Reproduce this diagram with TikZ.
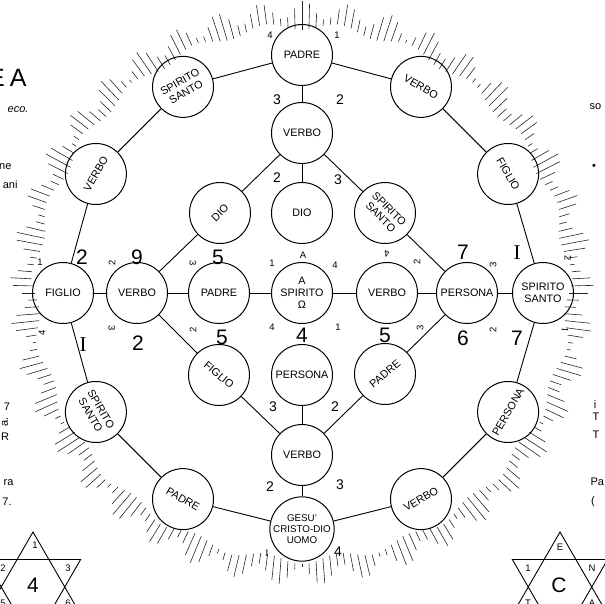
\documentclass[tikz,border=0pt]{standalone}
\usepackage{fontspec}
\setmainfont{Liberation Sans}
\newfontfamily\romanI{Liberation Serif}

\tikzset{
  ring/.style={circle, draw, line width=1pt, minimum size=61pt, inner sep=0pt,
    align=center, font=\fontsize{10.8}{12}\selectfont},
  link/.style={line width=0.9pt},
  hatch/.style={line width=0.6pt, black!85},
  numsmall/.style={font=\fontsize{9.5}{9.5}\selectfont},
  nummid/.style={font=\fontsize{14}{14}\selectfont},
  numbig/.style={font=\fontsize{21}{21}\selectfont},
  margintext/.style={font=\fontsize{11}{11}\selectfont},
}

\begin{document}
\begin{tikzpicture}[x=1pt, y=1pt]
  \useasboundingbox (-302,-311) rectangle (303,293);
  % hatched border round the whole figure
  \foreach \a in {0,1.5,...,358.5}
    \draw[hatch] (\a:{267+4*sin(23*\a)}) -- (\a:{283+9*sin(41*\a+17)});
  % outer ring of twelve
  \node[ring] (padreN) at (90:238) {PADRE};
  \node[ring, rotate=-30] (verboNE) at (60:238) {VERBO};
  \node[ring, rotate=-60] (figlioNE) at (30:238) {FIGLIO};
  \node[ring] (spiritoE) at (0:241) {SPIRITO\\SANTO};
  \node[ring, rotate=60] (personaSE) at (-30:238) {PERSONA};
  \node[ring, rotate=30] (verboSE) at (-60:238) {VERBO};
  \node[ring, font=\fontsize{9.8}{11}\selectfont] (gesuS) at (-90:236)
    {GESU'\\CRISTO-DIO\\UOMO};
  \node[ring, rotate=-30] (padreSW) at (-120:238) {PADRE};
  \node[ring, rotate=-60] (spiritoSW) at (-150:238) {SPIRITO\\SANTO};
  \node[ring] (figlioW) at (180:239) {FIGLIO};
  \node[ring, rotate=60] (verboW) at (150:238) {VERBO};
  \node[ring, rotate=30] (spiritoNW) at (120:238) {SPIRITO\\SANTO};
  % inner diamond
  \node[ring] (verboN) at (0,160) {VERBO};
  \node[ring, rotate=45] (dioW) at (-82,80) {DIO};
  \node[ring] (dioC) at (0,80) {DIO};
  \node[ring, rotate=-45] (spiritoNE) at (83,80) {SPIRITO\\SANTO};
  \node[ring] (verboR1) at (-165,0) {VERBO};
  \node[ring] (padreR2) at (-83,0) {PADRE};
  \node[ring] (spiritoC) at (0,0) {A\\SPIRITO\\Ω};
  \node[ring] (verboR4) at (85,0) {VERBO};
  \node[ring] (personaR5) at (165,0) {PERSONA};
  \node[ring, rotate=-40] (figlioS) at (-83,-82) {FIGLIO};
  \node[ring] (personaS) at (0,-82) {PERSONA};
  \node[ring, rotate=40] (padreSE) at (83,-81) {PADRE};
  \node[ring] (verboS) at (0,-162) {VERBO};
  % connectors
  \draw[link] (padreN) -- (verboNE) -- (figlioNE) -- (spiritoE) -- (personaSE)
    -- (verboSE) -- (gesuS) -- (padreSW) -- (spiritoSW) -- (figlioW)
    -- (verboW) -- (spiritoNW) -- (padreN);
  \draw[link] (padreN) -- (verboN);
  \draw[link] (verboN) -- (dioW) -- (verboR1);
  \draw[link] (verboN) -- (dioC);
  \draw[link] (verboN) -- (spiritoNE) -- (personaR5);
  \draw[link] (figlioW) -- (verboR1) -- (padreR2) -- (spiritoC) -- (verboR4)
    -- (personaR5) -- (spiritoE);
  \draw[link] (verboR1) -- (figlioS) -- (verboS);
  \draw[link] (personaS) -- (verboS);
  \draw[link] (personaR5) -- (padreSE) -- (verboS);
  \draw[link] (verboS) -- (gesuS);
  % numbers round the nodes
  \foreach \x/\y/\t/\r [count=\k] in {-32/258/4/0, 35/258/1/0, -262/31/1/0,
      -190/30/2/90, -109/30/3/-90, -30/30/1/0, 1/38/A/0, 33/28/4/0,
      85/39/4/180, 115/31/2/90, 191/28/3/90, 266/35/2/-90, -260/-40/4/90,
      -190/-35/3/-90, -109/-37/2/90, -30/-34/4/0, 36/-34/1/0, 118/-35/3/90,
      191/-37/2/90, 263/-37/{\romanI I}/90, -35/-260/{\romanI I}/0}
    \node[numsmall, rotate=\r] (ns\k) at (\x,\y) {\t};
  \foreach \x/\y/\t [count=\k] in {-25/193/3, 38/193/2, -25/115/2, 36/113/3,
      -29/-114/3, 33/-114/2, -32/-194/2, 38/-192/3, 36/-259/4}
    \node[nummid] (nm\k) at (\x,\y) {\t};
  \foreach \x/\y/\t [count=\k] in {-220/36/2, -165/36/9, -84/36/5, 161/41/7,
      215/40/{\romanI I}, -219/-52/{\romanI I}, -164/-50/2, -80/-44/5, 0/-42/4,
      83/-42/5, 161/-45/6, 215/-45/7}
    \node[numbig] (nb\k) at (\x,\y) {\t};
  % cut-off text at the margins
  \node[anchor=east, font=\fontsize{25}{25}\selectfont] (title) at (-272,215)
    {E\hspace{5pt}A};
  \node[margintext, anchor=east] (mA) at (-270,183) {\itshape eco.};
  \node[margintext, anchor=east] (mB) at (-287,126) {ne};
  \node[margintext, anchor=east] (mC) at (-281,108) {ani};
  \node[margintext] (mD) at (-295,-114) {7};
  \node[margintext, rotate=90] (mE) at (-297,-129) {a.};
  \node[margintext] (mF) at (-297,-144) {R};
  \node[margintext, anchor=east] (mG) at (-285,-190) {ra};
  \node[margintext] (mH) at (-295,-209) {7.};
  \node[margintext, anchor=west] (mI) at (284,186) {so};
  \node[margintext] (mJ) at (292,126) {•};
  \node[margintext] (mK) at (293,-112) {i};
  \node[margintext] (mL) at (294,-124) {T};
  \node[margintext] (mM) at (294,-142) {T};
  \node[margintext, anchor=west] (mN) at (285,-189) {Pa};
  \node[margintext] (mO) at (291,-209) {(};
  % the two stars at the foot
  \foreach \cx in {-269,258}
    \draw[link, shift={(\cx,-294)}] (90:55) -- (210:55) -- (330:55) -- cycle
      (270:55) -- (30:55) -- (150:55) -- cycle;
  \foreach \x/\y/\t [count=\k] in {-267/-252/1, -299/-275/2, -234/-275/3,
      -299/-310/5, -234/-310/6, 258/-254/E, 226/-275/1, 290/-275/N,
      226/-310/T, 290/-310/A}
    \node[numsmall] (st\k) at (\x,\y) {\t};
  \node[numbig] (starL) at (-269,-292) {4};
  \node[numbig] (starR) at (257,-292) {C};
\end{tikzpicture}
\end{document}
